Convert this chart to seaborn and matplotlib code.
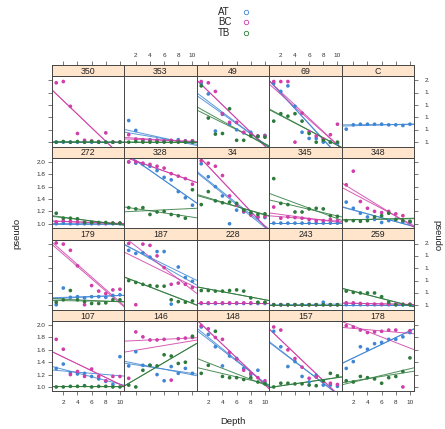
import numpy as np
import pandas as pd
import matplotlib
matplotlib.use("Agg")
import matplotlib.pyplot as plt
import matplotlib.transforms as mtrans
import seaborn as sns

# ---------------- data ----------------
depth = [1, 2, 3, 4, 5, 6, 7, 8, 9, 10]
groups = ["AT", "BC", "TB"]
panel_order = ["350", "353", "49", "69", "C",
               "272", "328", "34", "345", "348",
               "179", "187", "228", "243", "259",
               "107", "146", "148", "157", "178"]
xticks = [2, 4, 6, 8, 10]
yticks = [1.0, 1.2, 1.4, 1.6, 1.8, 2.0]

v350 = dict(AT=[1.00, 1.00, 1.00, 1.00, 1.00, 1.00, 1.00, 1.00, 1.00, 1.00],
            BC=[1.96, 1.98, 1.58, 1.14, 1.03, 1.02, 1.01, 1.15, 1.00, 1.00],
            TB=[1.00, 1.01, 1.00, 1.01, 1.00, 1.01, 1.00, 1.00, 1.00, 1.00])
v353 = dict(AT=[1.35, 1.19, 1.03, 1.04, 1.03, 1.02, 1.02, 1.04, 1.02, 1.02],
            BC=[1.12, 1.05, 1.04, 1.03, 1.03, 1.02, 1.03, 1.02, 1.02, 1.02],
            TB=[1.00, 1.01, 1.00, 1.00, 1.00, 1.00, 1.00, 1.00, 1.00, 1.00])
v49 = dict(AT=[1.95, 1.78, 1.18, 1.45, 1.29, 1.20, 1.15, 1.16, 1.10, 1.11],
           BC=[1.98, 1.96, 1.82, 1.46, 1.32, 1.32, 1.16, 1.13, 1.10, 1.10],
           TB=[1.91, 1.39, 1.13, 1.14, 1.54, 1.03, 1.03, 1.10, 1.09, 1.08])
v69 = dict(AT=[1.95, 1.82, 1.91, 1.58, 1.16, 1.06, 1.06, 1.00, 1.00, 0.98],
           BC=[1.98, 1.98, 1.98, 1.00, 1.47, 1.17, 1.10, 1.05, 1.12, 1.29],
           TB=[1.34, 1.46, 1.42, 1.46, 1.34, 1.14, 1.00, 1.03, 1.00, 1.00])
vC = dict(AT=[1.21, 1.28, 1.29, 1.29, 1.29, 1.29, 1.28, 1.28, 1.27, 1.29])
v272 = dict(AT=[1.00, 1.01, 1.00, 1.00, 1.00, 1.00, 1.00, 1.00, 1.00, 1.00],
            BC=[1.03, 1.05, 1.04, 1.03, 1.02, 1.02, 1.01, 1.01, 1.01, 1.01],
            TB=[1.17, 1.09, 1.09, 1.08, 1.02, 1.02, 1.02, 1.02, 1.01, 1.01])
v328 = dict(AT=[2.00, 1.98, 1.96, 1.93, 1.86, 1.75, 1.71, 1.52, 1.42, 1.30],
            BC=[2.00, 2.00, 1.98, 1.96, 1.93, 1.90, 1.81, 1.77, 1.73, 1.64],
            TB=[1.26, 1.24, 1.26, 1.15, 1.19, 1.20, 1.15, 1.13, 1.09, 1.55])
v34 = dict(AT=[1.97, 1.76, 1.60, 1.45, 1.00, 1.22, 1.19, 1.16, 1.10, 1.10],
           BC=[2.02, 1.98, 1.93, 1.78, 1.45, 1.30, 1.20, 1.14, 1.11, 1.12],
           TB=[1.31, 1.52, 1.37, 1.34, 1.35, 1.33, 1.22, 1.18, 1.15, 1.16])
v345 = dict(AT=[1.01, 1.01, 1.01, 1.01, 1.01, 1.01, 1.01, 1.01, 1.01, 1.01],
            BC=[1.27, 1.09, 1.11, 1.10, 1.09, 1.07, 1.05, 1.05, 1.07, 1.05],
            TB=[1.73, 1.33, 1.31, 1.19, 1.19, 1.24, 1.25, 1.24, 1.13, 1.12])
v348 = dict(AT=[1.35, 1.25, 1.17, 1.11, 1.07, 1.02, 1.05, 1.07, 1.03, 1.02],
            BC=[1.63, 1.85, 1.36, 1.25, 1.20, 1.18, 1.20, 1.16, 1.13, 1.03],
            TB=[1.05, 1.05, 1.04, 1.05, 1.11, 1.13, 1.17, 1.07, 1.05, 1.04])
v179 = dict(AT=[1.01, 1.28, 1.13, 1.14, 1.12, 1.14, 1.14, 1.13, 1.16, 1.17],
            BC=[2.01, 1.99, 1.89, 1.64, 1.01, 1.32, 1.23, 1.19, 1.25, 1.26],
            TB=[1.05, 1.09, 1.24, 1.09, 1.06, 1.03, 1.03, 1.04, 1.09, 1.09])
v187 = dict(AT=[1.89, 1.84, 1.85, 1.78, 1.87, 1.87, 1.02, 1.62, 1.45, 1.39],
            BC=[2.00, 1.01, 1.99, 1.97, 1.80, 1.61, 1.34, 1.36, 1.34, 1.29],
            TB=[1.40, 1.37, 1.34, 1.32, 1.31, 1.31, 1.09, 1.06, 1.05, 1.07])
v228 = dict(AT=[1.03, 1.03, 1.03, 1.03, 1.03, 1.03, 1.03, 1.03, 1.03, 1.03],
            BC=[1.04, 1.04, 1.04, 1.04, 1.04, 1.04, 1.04, 1.04, 1.04, 1.04],
            TB=[1.24, 1.24, 1.23, 1.23, 1.24, 1.25, 1.23, 1.12, 1.05, 1.05])
v243 = dict(AT=[1.01, 1.01, 1.01, 1.01, 1.01, 1.01, 1.01, 1.05, 1.01, 1.01],
            BC=[1.01, 1.01, 1.01, 1.01, 1.01, 1.01, 1.01, 1.01, 1.01, 1.01],
            TB=[1.01, 1.01, 1.01, 1.01, 1.01, 1.01, 1.01, 1.01, 1.01, 1.01])
v259 = dict(AT=[1.01, 1.01, 1.01, 1.01, 1.01, 1.01, 1.01, 1.01, 1.01, 1.01],
            BC=[1.04, 1.04, 1.03, 1.02, 1.02, 1.02, 1.02, 1.02, 1.02, 1.02],
            TB=[1.23, 1.21, 1.20, 1.20, 1.20, 1.14, 1.05, 1.01, 1.01, 1.01])
v107 = dict(AT=[1.30, 1.37, 1.23, 1.21, 1.22, 1.17, 1.13, 1.09, 1.04, 1.49],
            BC=[1.77, 1.61, 1.20, 1.25, 1.17, 1.29, 1.17, 1.10, 1.17, 1.17],
            TB=[1.00, 1.00, 1.01, 1.01, 1.02, 1.00, 1.01, 1.01, 1.00, 1.00])
v146 = dict(AT=[1.34, 1.57, 1.35, 1.35, 1.20, 1.10, 1.33, 1.22, 1.30, 1.22],
            BC=[1.14, 1.89, 1.81, 1.76, 1.76, 1.77, 1.11, 1.78, 1.79, 1.80],
            TB=[1.03, 1.00, 1.27, 1.35, 1.34, 1.52, 1.50, 1.38, 1.40, 1.82])
v148 = dict(AT=[1.97, 1.85, 1.65, 1.34, 1.50, 1.46, 1.30, 1.20, 1.27, 1.07],
            BC=[1.99, 1.94, 1.80, 1.77, 1.56, 1.45, 1.27, 1.22, 1.15, 1.10],
            TB=[1.22, 1.35, 1.90, 1.17, 1.15, 1.15, 1.12, 1.15, 1.08, 1.05])
v157 = dict(AT=[1.90, 1.65, 1.33, 1.41, 1.17, 1.08, 1.19, 1.03, 1.03, 1.01],
            BC=[1.97, 1.92, 1.60, 1.46, 1.32, 1.14, 1.16, 1.09, 1.06, 1.04],
            TB=[1.00, 1.06, 1.06, 1.05, 1.05, 1.03, 1.02, 1.10, 1.22, 1.18])
v178 = dict(AT=[1.30, 1.41, 1.65, 1.61, 1.70, 1.72, 1.77, 1.77, 1.81, 1.88],
            BC=[1.99, 1.97, 1.92, 1.88, 1.89, 1.90, 1.92, 1.92, 1.00, 1.91],
            TB=[1.10, 1.08, 1.17, 1.15, 1.13, 1.06, 1.15, 1.17, 1.25, 1.47])

panel_values = {"350": v350, "353": v353, "49": v49, "69": v69, "C": vC,
                "272": v272, "328": v328, "34": v34, "345": v345, "348": v348,
                "179": v179, "187": v187, "228": v228, "243": v243, "259": v259,
                "107": v107, "146": v146, "148": v148, "157": v157, "178": v178}

rows = []
for p, d in panel_values.items():
    for g, vals in d.items():
        for x, y in zip(depth, vals):
            rows.append((p, g, x, y))
df = pd.DataFrame(rows, columns=["panel", "group", "Depth", "pseudo"])

# ---------------- style ----------------
sns.set_theme(style="white")
plt.rcParams["font.family"] = ["Liberation Sans", "DejaVu Sans"]
palette = {"AT": "#3f86d4", "BC": "#cf3ea9", "TB": "#2e7a3c"}
strip_bg = "#ffe5cc"
edge = "#444444"
tcol = "#333333"

W, H = 445, 429
fig = plt.figure(figsize=(W / 100, H / 100), dpi=100)
XLIM = (0.36, 10.6)
YLIM = (0.928, 2.065)


def fx(px):
    return px / W


def fy(py):
    return 1 - py / H


def huber_line(x, y, k=1.345, n_iter=60):
    X = np.column_stack([np.ones_like(x), x])
    beta = np.linalg.lstsq(X, y, rcond=None)[0]
    for _ in range(n_iter):
        r = y - X @ beta
        s = np.median(np.abs(r)) / 0.6745
        if s < 1e-9:
            break
        u = np.abs(r) / s
        w = np.where(u <= k, 1.0, k / np.maximum(u, 1e-12))
        sw = np.sqrt(w)
        beta = np.linalg.lstsq(X * sw[:, None], y * sw, rcond=None)[0]
    return beta


col_w = 72.5
row_h = 81.6
strip_h = 11.3
left0 = 51.7
top0 = 65.0
right_clip = mtrans.TransformedBbox(mtrans.Bbox.from_extents(0, 0, 428.8 / W, 1), fig.transFigure)

for i, pname in enumerate(panel_order):
    r, c = divmod(i, 5)
    L = left0 + col_w * c
    st = top0 + row_h * r
    ptop = st + strip_h
    pbot = st + row_h
    ax = fig.add_axes([fx(L), fy(pbot), fx(col_w), (pbot - ptop) / H])
    sax = fig.add_axes([fx(L), fy(ptop), fx(col_w), strip_h / H])

    ax.set_xlim(*XLIM)
    ax.set_ylim(*YLIM)
    sub = df[df.panel == pname]
    for g in groups:
        gd = sub[sub.group == g]
        if gd.empty:
            continue
        xs = gd["Depth"].to_numpy(float)
        ys = gd["pseudo"].to_numpy(float)
        sns.regplot(x=xs, y=ys, ax=ax, scatter=False, ci=None, truncate=False,
                    color=palette[g], line_kws=dict(lw=0.7, alpha=0.85))
        b = huber_line(xs, ys)
        gx = np.linspace(XLIM[0], XLIM[1], 50)
        ax.plot(gx, b[0] + b[1] * gx, color=palette[g], lw=0.7, alpha=0.85)
    sns.scatterplot(data=sub, x="Depth", y="pseudo", hue="group", palette=palette,
                    hue_order=[g for g in groups if g in sub.group.unique()],
                    ax=ax, s=7, edgecolor="none", legend=False, zorder=5)
    ax.set_xlim(*XLIM)
    ax.set_ylim(*YLIM)
    ax.set_xlabel("")
    ax.set_ylabel("")
    for sp in ax.spines.values():
        sp.set_color(edge)
        sp.set_linewidth(0.7)
    ax.set_xticks(xticks)
    ax.set_yticks(yticks)
    ax.tick_params(axis="both", which="both", length=3, width=0.5, color=edge,
                   labelsize=4.6, labelcolor=tcol, pad=1.5,
                   bottom=False, top=False, left=False, right=False,
                   labelbottom=False, labeltop=False, labelleft=False, labelright=False)
    ax.yaxis.set_major_formatter(matplotlib.ticker.FormatStrFormatter("%.1f"))
    if c == 0:
        ax.tick_params(axis="y", left=True, labelleft=(r % 2 == 1))
    if c == 4:
        ax.tick_params(axis="y", right=True)
        if r % 2 == 0:
            btr = mtrans.blended_transform_factory(ax.transAxes, ax.transData)
            for yv in yticks:
                t = ax.text(1 + 10.5 / col_w, yv, f"{yv:.1f}", transform=btr,
                            ha="left", va="center", fontsize=4.6, color=tcol,
                            clip_on=True)
                t.set_clip_path(None)
                t.set_clip_box(right_clip)
    if r == 3:
        ax.tick_params(axis="x", bottom=True, labelbottom=(c % 2 == 0), pad=3)

    # strip
    sax.set_facecolor(strip_bg)
    sax.set_xlim(*XLIM)
    sax.set_ylim(0, 1)
    sax.set_xticks(xticks)
    sax.set_yticks([])
    sax.tick_params(axis="x", length=3, width=0.5, color=edge, labelsize=4.6,
                    labelcolor=tcol, pad=2,
                    bottom=False, labelbottom=False,
                    top=(r == 0), labeltop=(r == 0 and c % 2 == 1))
    for sp in sax.spines.values():
        sp.set_color(edge)
        sp.set_linewidth(0.7)
    sax.text(0.5, 0.45, pname, ha="center", va="center", fontsize=6.3,
             color="#222222", transform=sax.transAxes)

# axis titles
fig.text(fx(233), fy(421), "Depth", ha="center", va="center", fontsize=6.8, color="#222222")
fig.text(fx(17), fy(233), "pseudo", ha="center", va="center", rotation=90,
         fontsize=6.8, color="#222222")
fig.text(fx(437), fy(236), "pseudo", ha="center", va="center", rotation=270,
         fontsize=6.8, color="#222222")

# key
key_y = [11.7, 22.3, 33.3]
for g, yy in zip(groups, key_y):
    fig.text(fx(218), fy(yy), g, ha="left", va="center", fontsize=7, color="#222222")
    fig.lines.append(matplotlib.lines.Line2D([fx(246)], [fy(yy)], marker="o", ms=3.2,
                                             mfc="none", mec=palette[g], mew=0.6,
                                             transform=fig.transFigure, figure=fig))

fig.savefig("out.png", dpi=100)
